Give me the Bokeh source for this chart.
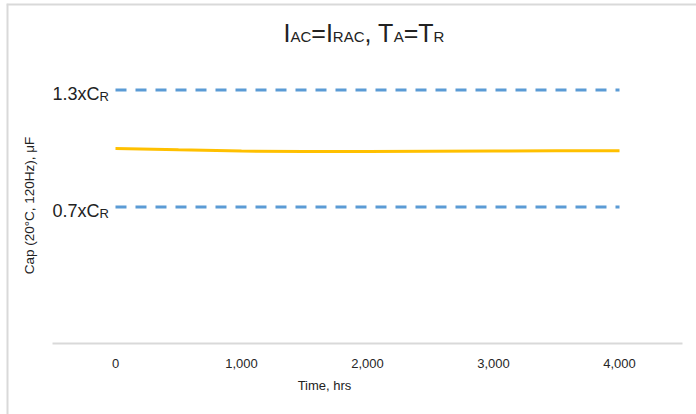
from bokeh.plotting import figure
from bokeh.models import Label, FixedTicker, NumeralTickFormatter, Range1d, Span
from bokeh.embed import file_html
from bokeh.resources import INLINE
import math

# ---- data ----
hours = [0, 500, 1000, 1500, 2000, 2500, 3000, 3500, 4000]
cap = [1.000, 0.993, 0.987, 0.984, 0.985, 0.986, 0.987, 0.988, 0.988]
limit_x = [0, 4000]
upper_limit = [1.3, 1.3]
lower_limit = [0.7, 0.7]
x_ticks = [0, 1000, 2000, 3000, 4000]
x_axis_bounds = (-500, 4500)

FONT = "Liberation Sans"
W, H = 690, 411

# the frame fills the whole canvas so that every text can live inside it
xr = Range1d(-865, 4611)
yr = Range1d(-0.3641, 1.7436)
p = figure(width=W, height=H, output_backend="svg", toolbar_location=None,
           x_range=xr, y_range=yr, y_axis_location=None, min_border=0,
           styles={"margin-left": "6px", "margin-top": "3px"})
p.outline_line_color = None
p.grid.visible = False

# chart-area border (left and top edges)
p.add_layout(Span(location=xr.start, dimension="height", line_color="#d9d9d9", line_width=4))
p.add_layout(Span(location=yr.end, dimension="width", line_color="#d9d9d9", line_width=4))

ax = p.xaxis[0]
ax.fixed_location = 0
ax.bounds = x_axis_bounds
ax.ticker = FixedTicker(ticks=x_ticks)
ax.formatter = NumeralTickFormatter(format="0,0")
ax.axis_line_color = "#d9d9d9"
ax.axis_line_width = 2
ax.major_tick_line_color = None
ax.minor_tick_line_color = None
ax.major_tick_out = 0
ax.major_tick_in = 0
ax.major_label_standoff = 15
ax.major_label_text_font = FONT
ax.major_label_text_font_size = "13px"
ax.major_label_text_color = "#262626"

# limit lines
p.line(limit_x, upper_limit, line_color="#5B9BD5", line_width=3, line_dash="11 9")
p.line(limit_x, lower_limit, line_color="#5B9BD5", line_width=3, line_dash="11 9")
# capacitance
p.line(hours, cap, line_color="#FFC000", line_width=3)

K = 0.42  # baseline correction per px of font size

def lab(x, y, text, size, **kw):
    l = Label(x=x, y=y, text=text, text_font=FONT, text_font_size=f"{size}px",
              text_color="#222222", **kw)
    p.add_layout(l)

# title pieces (screen units inside the frame)
big, small = 25, 15
title_base = 371.5
pieces = [("I", big), ("AC", small), ("=", big), ("I", big), ("RAC", small),
          (", T", big), ("A", small), ("=T", big), ("R", small)]
widths = {"I": 0.278, "A": 0.667, "C": 0.722, "R": 0.722, "=": 0.584, ",": 0.278,
          " ": 0.278, "T": 0.611}
x0 = 277
for txt, sz in pieces:
    lab(x0, title_base + K * sz, txt, sz, x_units="screen", y_units="screen",
        text_baseline="alphabetic", text_align="left")
    x0 += sum(widths[c] for c in txt) * sz

# limit labels
for yv, t in [(1.3, "1.3xC"), (0.7, "0.7xC")]:
    lab(46, yv, t, 18, x_units="screen", y_units="data", y_offset=-4,
        text_baseline="alphabetic", text_align="left")
    lab(93, yv, "R", 13, x_units="screen", y_units="data", y_offset=-4 - K * 5,
        text_baseline="alphabetic", text_align="left")

# axis titles
lab(318, 29, "Time, hrs", 13, x_units="screen", y_units="screen",
    text_align="center", text_baseline="middle")
lab(23, 209, "Cap (20\u00b0C, 120Hz), \u03bcF", 13.5, x_units="screen", y_units="screen",
    text_align="center", text_baseline="middle", angle=math.pi / 2)

open("out.html", "w").write(file_html(p, INLINE))
